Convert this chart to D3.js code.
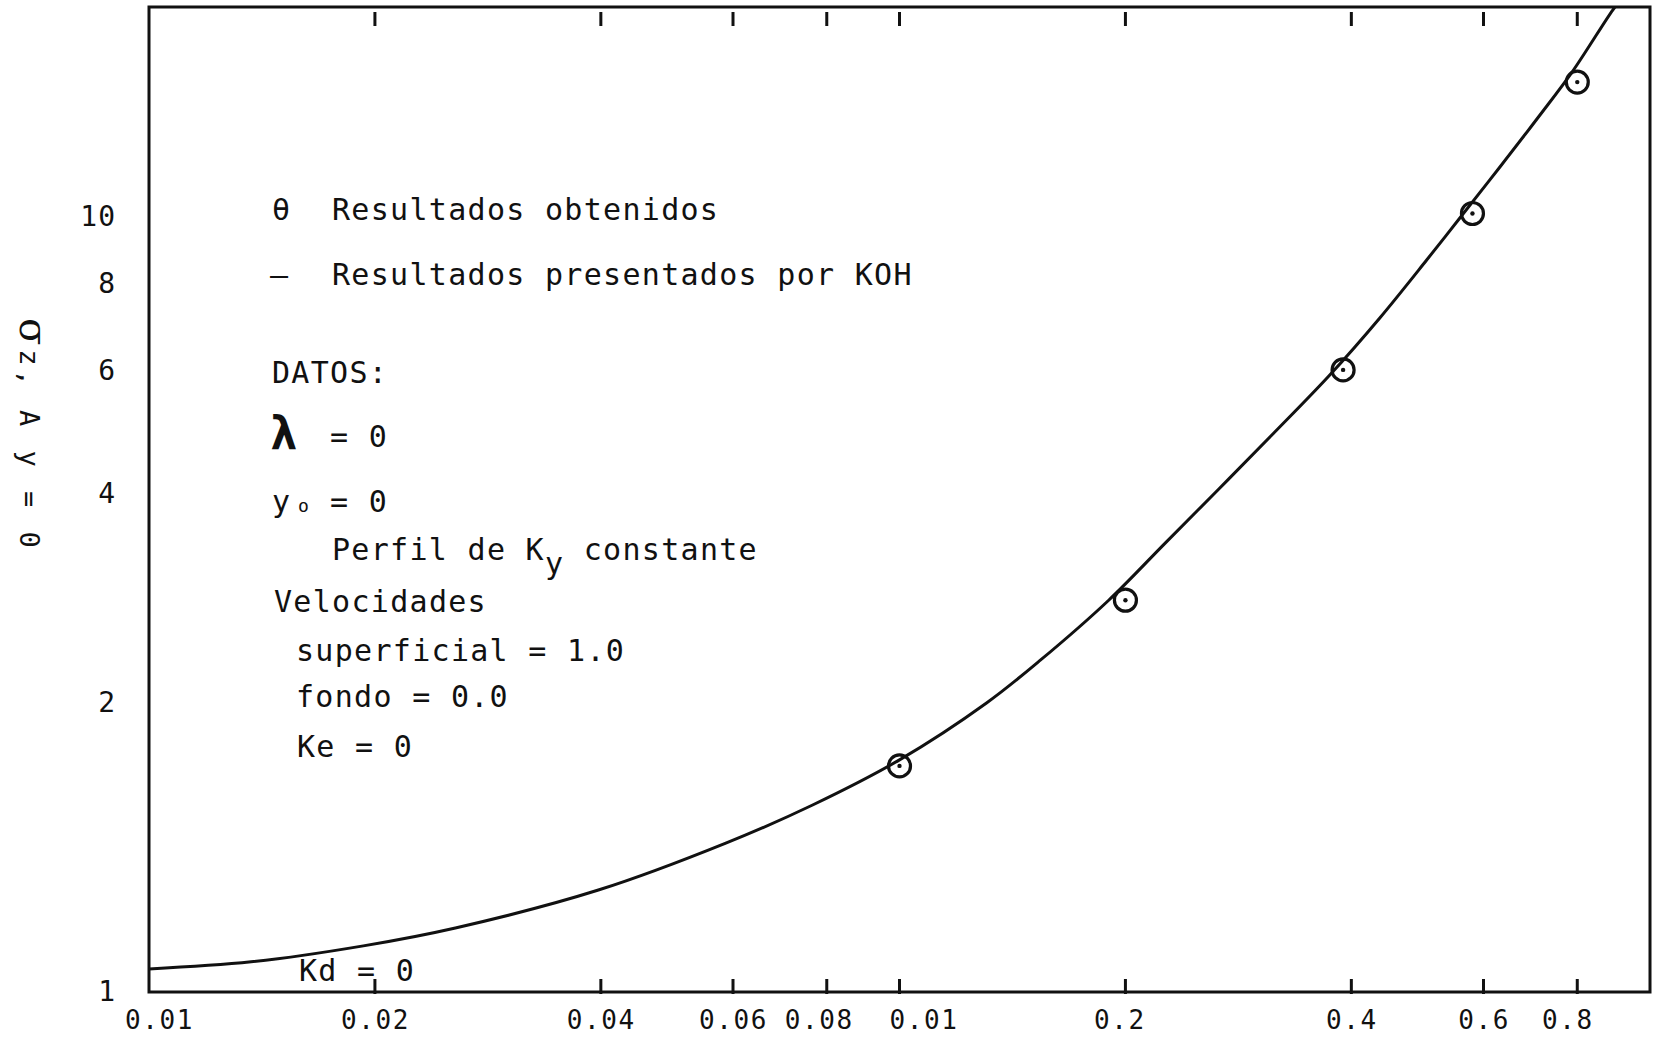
<!DOCTYPE html>
<html>
<head>
<meta charset="utf-8">
<script src="https://cdn.jsdelivr.net/npm/d3@7"></script>
<style>
  html, body { margin: 0; padding: 0; background: #fff; }
  svg { display: block; }
  text { font-family: "DejaVu Sans Mono", "Liberation Mono", monospace; fill: #111; }
</style>
</head>
<body>
<svg id="chart" width="1655" height="1041"></svg>
<script>
// ---- data ----
const xTicks = [0.01, 0.02, 0.04, 0.06, 0.08, 0.1, 0.2, 0.4, 0.6, 0.8];
const xTickLabels = ["0.01", "0.02", "0.04", "0.06", "0.08", "0.01", "0.2", "0.4", "0.6", "0.8"];
const yTicks = [1, 2, 4, 6, 8, 10];
const yTickLabels = ["1", "2", "4", "6", "8", "10"];

// curve: "Resultados presentados por KOH"
const kohX = [0.01, 0.01368, 0.0193, 0.0256, 0.0397, 0.0588, 0.0766, 0.1, 0.1306, 0.1542, 0.190, 0.2263, 0.2664, 0.3144, 0.3744, 0.4365, 0.504, 0.558, 0.631, 0.7135, 0.789, 0.892, 0.912];
const kohY = [1.057, 1.075, 1.117, 1.166, 1.277, 1.430, 1.566, 1.745, 2.0, 2.306, 2.81, 3.40, 4.06, 4.87, 5.92, 7.15, 8.66, 9.95, 11.78, 13.99, 16.18, 19.8, 20.4];

// points: "Resultados obtenidos"
const obtX = [0.1, 0.2, 0.39, 0.58, 0.8];
const obtY = [1.72, 2.81, 6.02, 10.1, 15.6];

// ---- layout ----
const pL = 149, pR = 1650, pT = 7, pB = 992;

const svg = d3.select("#chart");

const x = d3.scaleLog().domain([0.01, 1]).range([pL, pR]);
// hand-made chart: the 1→2 interval is drawn wider than the rest
const y = d3.scaleLog().domain([1, 2, 20]).range([pB, 703, pT]);

// clip
svg.append("defs").append("clipPath").attr("id", "plotclip")
  .append("rect").attr("x", pL).attr("y", pT).attr("width", pR - pL).attr("height", pB - pT);

// bottom ticks (pointing up into the plot)
svg.append("g").attr("class", "bticks").selectAll("line")
  .data(xTicks.filter(d => d > 0.01))
  .join("line")
  .attr("x1", d => x(d)).attr("x2", d => x(d))
  .attr("y1", pB + 2).attr("y2", pB - 13)
  .attr("stroke", "#111").attr("stroke-width", 3);

// frame
svg.append("rect")
  .attr("x", pL).attr("y", pT)
  .attr("width", pR - pL).attr("height", pB - pT)
  .attr("fill", "none").attr("stroke", "#111").attr("stroke-width", 3);

// bottom axis labels
const xAxis = d3.axisBottom(x)
  .tickValues(xTicks)
  .tickFormat((d, i) => xTickLabels[i])
  .tickSize(0).tickPadding(19);
const gx = svg.append("g").attr("transform", `translate(0,${pB})`).call(xAxis);
gx.select(".domain").remove();
gx.selectAll(".tick line").remove();
gx.selectAll(".tick text")
  .attr("font-family", "DejaVu Sans Mono")
  .attr("font-size", 26).attr("letter-spacing", 1.6).attr("fill", "#111")
  .attr("dx", d => d === 0.01 ? 10 : d === 0.1 ? 24 : d === 0.08 ? -8 : d === 0.8 ? -10 : d === 0.2 ? -6 : 0);

// top ticks (short, detached from the top border)
svg.append("g").attr("class", "tticks").selectAll("line")
  .data(xTicks.filter(d => d > 0.01))
  .join("line")
  .attr("x1", d => x(d)).attr("x2", d => x(d))
  .attr("y1", pT + 5).attr("y2", pT + 19)
  .attr("stroke", "#111").attr("stroke-width", 3);

// left axis labels
const yAxis = d3.axisLeft(y)
  .tickValues(yTicks)
  .tickFormat((d, i) => yTickLabels[i])
  .tickSize(0).tickPadding(33);
const gy = svg.append("g").attr("transform", `translate(${pL},0)`).call(yAxis);
gy.select(".domain").remove();
gy.selectAll(".tick text")
  .attr("font-family", "DejaVu Sans Mono")
  .attr("font-size", 28).attr("letter-spacing", 1).attr("fill", "#111");

// y-axis title (rotated)
const ttl = svg.append("text")
  .attr("transform", "translate(20,318) rotate(90)")
  .attr("font-size", 27).attr("letter-spacing", 4);
ttl.append("tspan").attr("font-size", 40).attr("font-family", "DejaVu Serif").text("σ");
ttl.append("tspan").text("z, A y = 0");

// curve
const line = d3.line()
  .x((d, i) => x(kohX[i]))
  .y((d, i) => y(kohY[i]))
  .curve(d3.curveCatmullRom.alpha(0.5));
svg.append("path")
  .attr("clip-path", "url(#plotclip)")
  .attr("d", line(kohX))
  .attr("fill", "none").attr("stroke", "#111").attr("stroke-width", 3)
  .attr("stroke-linejoin", "round");

// points (circle with center dot)
const pts = svg.append("g").selectAll("g")
  .data(obtX.map((v, i) => ({ x: v, y: obtY[i] })))
  .join("g")
  .attr("transform", d => `translate(${x(d.x)},${y(d.y)})`);
pts.append("circle").attr("r", 11).attr("fill", "#fff").attr("fill-opacity", 0).attr("stroke", "#111").attr("stroke-width", 3.2);
pts.append("circle").attr("r", 2.2).attr("fill", "#111");

// legend / annotations
const ann = svg.append("g").attr("font-size", 30).attr("letter-spacing", 1.3);
ann.append("text").attr("x", 272).attr("y", 220).text("θ");
ann.append("text").attr("x", 332).attr("y", 220).text("Resultados obtenidos");
ann.append("text").attr("x", 270).attr("y", 285).text("—");
ann.append("text").attr("x", 332).attr("y", 285).text("Resultados presentados por KOH");
ann.append("text").attr("x", 272).attr("y", 383).text("DATOS:");
ann.append("text").attr("x", 270).attr("y", 449).attr("font-size", 46).attr("font-family", "DejaVu Serif").attr("font-weight", "bold").text("λ");
ann.append("text").attr("x", 330).attr("y", 447).text("= 0");
ann.append("text").attr("x", 272).attr("y", 512).text("y");
ann.append("text").attr("x", 298).attr("y", 512).attr("font-size", 18).text("o");
ann.append("text").attr("x", 330).attr("y", 512).text("= 0");
const perf = ann.append("text").attr("x", 332).attr("y", 560);
perf.append("tspan").text("Perfil de K");
perf.append("tspan").attr("dy", 14).text("y");
perf.append("tspan").attr("dy", -14).text(" constante");
ann.append("text").attr("x", 274).attr("y", 612).text("Velocidades");
ann.append("text").attr("x", 296).attr("y", 661).text("superficial = 1.0");
ann.append("text").attr("x", 296).attr("y", 707).text("fondo = 0.0");
ann.append("text").attr("x", 297).attr("y", 757).text("Ke = 0");
ann.append("text").attr("x", 299).attr("y", 981).text("Kd = 0");
</script>
</body>
</html>
